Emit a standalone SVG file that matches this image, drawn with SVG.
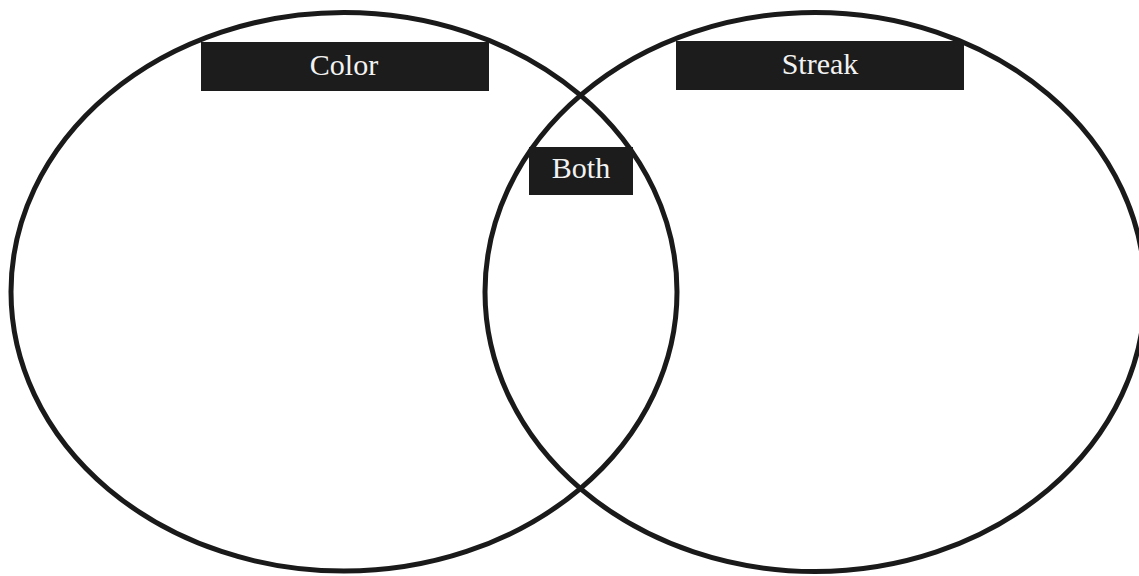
<svg xmlns="http://www.w3.org/2000/svg" width="1139" height="576" viewBox="0 0 1139 576">
<style>
.ring{fill:none;stroke:#1a1a1a;stroke-width:5}
.tag{fill:#1c1c1c}
.lbl{font-family:"Liberation Serif",serif;font-size:30px;fill:#f2f2f2;text-anchor:middle}
</style>
<rect width="1139" height="576" fill="#ffffff"/>
<g id="connectors"></g>
<g id="set-color">
<ellipse class="ring" cx="344" cy="291.8" rx="333" ry="279.3"/>
</g>
<g id="set-streak">
<ellipse class="ring" cx="815" cy="292" rx="330" ry="279.5"/>
</g>
<g id="label-color">
<rect class="tag" x="201" y="42" width="288" height="49"/>
<text class="lbl" x="344" y="75">Color</text>
</g>
<g id="label-streak">
<rect class="tag" x="676" y="41" width="288" height="49"/>
<text class="lbl" x="820" y="74">Streak</text>
</g>
<g id="label-both">
<rect class="tag" x="529" y="147" width="104" height="48"/>
<text class="lbl" x="581" y="178">Both</text>
</g>
</svg>
